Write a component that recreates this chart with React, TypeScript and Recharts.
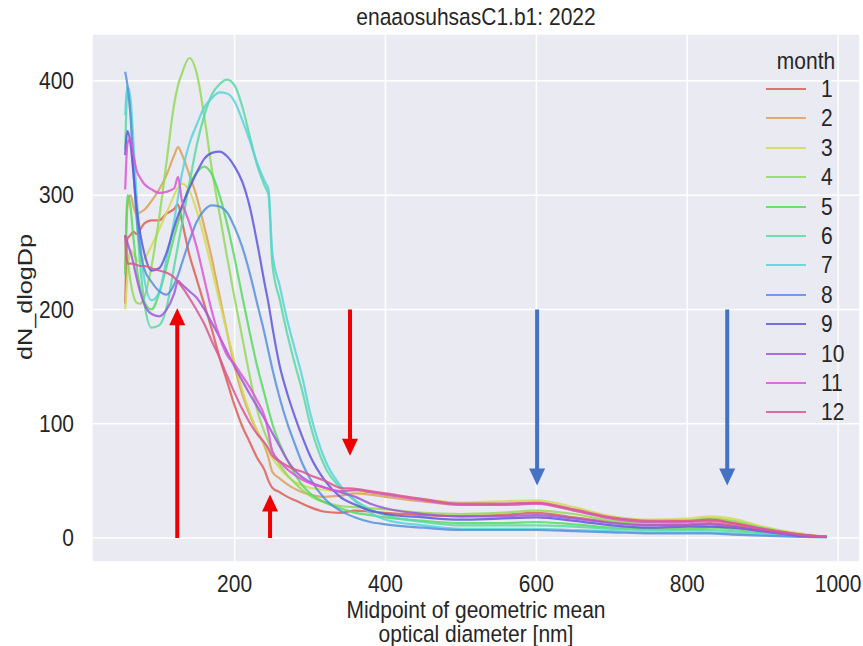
import React from 'react';
import { LineChart, Line, XAxis, YAxis, CartesianGrid, ReferenceLine, ReferenceDot } from 'recharts';

// particle size bins (nm)
const DIAMETERS = [55, 58, 62, 66, 70, 75, 80, 90, 100, 110, 120, 125, 130, 140, 150, 160, 170, 180, 190, 200, 210, 220, 230, 240, 245, 250, 260, 270, 280, 290, 300, 320, 340, 360, 380, 400, 450, 500, 550, 600, 650, 700, 750, 800, 830, 860, 900, 950, 985];

const M1 = [205, 262, 265, 268, 266, 270, 275, 278, 278, 284, 288, 292, 278, 248, 226, 204, 182, 158, 137, 116, 98, 84, 70, 59, 50, 44, 40, 36, 33, 30, 27, 23, 22, 24, 23, 22, 20, 19, 20, 22, 18, 14, 12, 12, 13, 11, 7, 3, 1];
const M2 = [235, 290, 300, 290, 283, 285, 287, 295, 305, 318, 335, 342, 336, 318, 298, 272, 244, 212, 180, 150, 126, 108, 93, 80, 70, 58, 52, 47, 43, 40, 38, 36, 37, 39, 38, 36, 32, 29, 29, 30, 24, 17, 14, 15, 17, 14, 8, 3, 1];
const M3 = [200, 230, 252, 248, 244, 242, 244, 256, 270, 285, 300, 307, 310, 304, 286, 262, 235, 207, 180, 154, 130, 110, 94, 82, 76, 70, 61, 54, 49, 46, 44, 42, 41, 41, 40, 38, 34, 31, 32, 33, 27, 19, 16, 17, 19, 17, 10, 4, 1];
const M4 = [265, 245, 225, 212, 206, 205, 210, 238, 280, 330, 380, 396, 406, 420, 406, 368, 322, 284, 246, 210, 176, 142, 112, 92, 84, 76, 64, 55, 48, 42, 37, 31, 28, 27, 26, 25, 22, 21, 22, 24, 21, 15, 13, 15, 17, 15, 9, 3, 1];
const M5 = [230, 300, 290, 262, 238, 218, 207, 200, 214, 238, 264, 276, 288, 308, 320, 325, 318, 300, 275, 245, 212, 180, 150, 125, 112, 100, 82, 68, 56, 46, 39, 31, 26, 22, 20, 18, 15, 13, 13, 14, 12, 9, 8, 8, 9, 8, 5, 2, 1];
const M6 = [340, 390, 372, 330, 282, 238, 208, 184, 186, 202, 238, 256, 274, 310, 344, 370, 388, 397, 401, 396, 378, 352, 326, 308, 300, 240, 208, 178, 152, 128, 100, 62, 44, 33, 25, 20, 14, 11, 11, 11, 10, 8, 7, 7, 7, 6, 4, 2, 1];
const M7 = [370, 395, 385, 345, 300, 258, 228, 208, 215, 245, 278, 298, 318, 345, 362, 377, 385, 390, 389, 382, 366, 348, 328, 312, 305, 250, 220, 190, 165, 140, 110, 68, 46, 32, 22, 16, 11, 8, 8, 8, 7, 6, 5, 5, 5, 4, 3, 1.5, 1];
const M8 = [408, 396, 370, 322, 282, 252, 236, 224, 216, 213, 222, 230, 240, 260, 277, 287, 291, 290, 285, 272, 255, 232, 205, 178, 163, 148, 122, 100, 82, 65, 52, 34, 24, 18, 14, 12, 9, 7, 7, 7, 6, 5, 4, 4, 4, 3, 2, 1, 0.5];
const M9 = [335, 356, 345, 318, 290, 266, 250, 234, 236, 250, 272, 282, 290, 306, 320, 332, 337, 338, 334, 325, 312, 290, 258, 222, 205, 185, 150, 126, 106, 88, 72, 50, 36, 29, 24, 21, 18, 16, 17, 18, 15, 11, 9, 10, 10, 9, 6, 2, 1];
const M10 = [265, 258, 250, 240, 228, 215, 205, 196, 194, 200, 214, 225, 222, 216, 210, 200, 188, 176, 163, 150, 138, 126, 115, 104, 98, 92, 80, 68, 59, 53, 49, 44, 40, 36, 30, 26, 21, 19, 19, 20, 17, 13, 11, 11, 12, 10, 6, 2, 1];
const M11 = [305, 345, 350, 335, 322, 315, 310, 305, 302, 303, 306, 316, 296, 276, 254, 226, 198, 176, 160, 152, 142, 132, 120, 106, 92, 76, 67, 60, 55, 51, 48, 44, 41, 42, 40, 38, 33, 29, 29, 30, 24, 17, 14, 14, 15, 13, 8, 3, 1];
const M12 = [265, 240, 240, 240, 239, 238, 238, 236, 234, 232, 228, 224, 220, 210, 199, 187, 172, 158, 142, 127, 113, 101, 91, 83, 78, 72, 67, 63, 60, 58, 55, 50, 44, 43, 41, 39, 34, 30, 30, 31, 25, 18, 15, 15, 16, 13, 8, 3, 1];

const MONTHS = [M1, M2, M3, M4, M5, M6, M7, M8, M9, M10, M11, M12];
const MONTH_LABELS = ['1', '2', '3', '4', '5', '6', '7', '8', '9', '10', '11', '12'];
const COLORS = ['#DB5F57', '#DBA157', '#D3DB57', '#91DB57', '#57DB5F', '#57DBA1', '#57D3DB', '#5791DB', '#5F57DB', '#A157DB', '#DB57D3', '#DB5791'];

const X_TICKS = [200, 400, 600, 800, 1000];
const Y_TICKS = [0, 100, 200, 300, 400];

// annotation arrows (data units)
const ARROW_X = [124, 247, 353, 601, 853];
const ARROW_FROM = [0, 0, 200, 200, 200];
const ARROW_TO = [201, 38, 72, 46, 46];
const ARROW_COLOR = ['#EE0000', '#EE0000', '#EE0000', '#4472C4', '#4472C4'];

const FONT = '"Liberation Sans", Arial, sans-serif';
const TEXT = '#262626';
const FS = 21;

const rows = DIAMETERS.map((x, i) => {
  const row: Record<string, number> = { x };
  MONTHS.forEach((m, j) => { row[`m${j + 1}`] = m[i]; });
  return row;
});

const arrowHead = (color: string, up: boolean) => (props: any) => {
  const { cx, cy } = props;
  const by = up ? cy + 17 : cy - 17;
  return <polygon points={`${cx},${cy} ${cx - 8},${by} ${cx + 8},${by}`} fill={color} />;
};

const XTick = (props: any) => {
  const { x, y, payload } = props;
  return (
    <g transform={`translate(${x},${y}) scale(1,1.1)`}>
      <text x={0} y={0} dy="0.75em" textAnchor="middle" fontSize={FS} fill={TEXT} fontFamily={FONT}>{payload.value}</text>
    </g>
  );
};

const YTick = (props: any) => {
  const { x, y, payload } = props;
  return (
    <g transform={`translate(${x},${y}) scale(1,1.1)`}>
      <text x={0} y={0} dy="0.36em" textAnchor="end" fontSize={FS} fill={TEXT} fontFamily={FONT}>{payload.value}</text>
    </g>
  );
};

const App = () => {
  return (
    <div style={{ position: 'absolute', left: 0, top: 0, width: 863, height: 646, background: '#fff', fontFamily: FONT, color: TEXT }}>
      <LineChart width={863} height={646} data={rows} margin={{ top: 34, right: 3, bottom: 0, left: 0 }}>
        <CartesianGrid fill="#EAEAF2" stroke="#fff" strokeWidth={1.5} />
        <XAxis
          type="number"
          dataKey="x"
          domain={[11, 1029]}
          ticks={X_TICKS}
          axisLine={false}
          tickLine={false}
          tickSize={0}
          tickMargin={13}
          height={84}
          tick={<XTick />}
          allowDataOverflow
        />
        <YAxis
          type="number"
          domain={[-21, 441]}
          ticks={Y_TICKS}
          axisLine={false}
          tickLine={false}
          tickSize={0}
          tickMargin={18}
          width={92}
          tick={<YTick />}
          allowDataOverflow
        />
        {MONTHS.map((_, j) => (
          <Line
            key={j}
            type="monotone"
            dataKey={`m${j + 1}`}
            stroke={COLORS[j]}
            strokeOpacity={0.85}
            strokeWidth={2.2}
            dot={false}
            isAnimationActive={false}
          />
        ))}
        {ARROW_X.map((x, i) => {
          const up = ARROW_TO[i] > ARROW_FROM[i];
          const end = up ? ARROW_TO[i] - 10 : ARROW_TO[i] + 10;
          return (
            <ReferenceLine
              key={`s${i}`}
              segment={[{ x, y: ARROW_FROM[i] }, { x, y: end }]}
              stroke={ARROW_COLOR[i]}
              strokeWidth={4}
            />
          );
        })}
        {ARROW_X.map((x, i) => (
          <ReferenceDot
            key={`h${i}`}
            x={x}
            y={ARROW_TO[i]}
            r={1}
            shape={arrowHead(ARROW_COLOR[i], ARROW_TO[i] > ARROW_FROM[i])}
          />
        ))}
      </LineChart>

      <div style={{ position: 'absolute', left: 92, width: 768, top: 6, lineHeight: '22px', fontSize: FS, textAlign: 'center', transform: 'scaleY(1.1)' }}>
        enaaosuhsasC1.b1: 2022
      </div>
      <div style={{ position: 'absolute', left: 92, width: 768, top: 600, lineHeight: '22px', fontSize: FS, textAlign: 'center', transform: 'scaleY(1.1)' }}>
        Midpoint of geometric mean<br />optical diameter [nm]
      </div>
      <div style={{ position: 'absolute', left: 25 - 100, top: 297 - 11, width: 200, lineHeight: '22px', fontSize: FS, textAlign: 'center', transform: 'rotate(-90deg) scaleX(1.2)' }}>
        dN_dlogDp
      </div>

      <div style={{ position: 'absolute', left: 746, top: 48, width: 120, fontSize: FS }}>
        <div style={{ position: 'absolute', left: 0, width: 120, top: 0, lineHeight: '26px', textAlign: 'center', transform: 'scaleY(1.1)' }}>month</div>
        {MONTH_LABELS.map((label, j) => (
          <div key={label} style={{ position: 'absolute', left: 0, top: 41 + j * 29.4 - 11, height: 22, width: 120 }}>
            <div style={{ position: 'absolute', left: 20, top: 10, width: 40, height: 2, background: COLORS[j], opacity: 0.85 }} />
            <div style={{ position: 'absolute', left: 75, top: 0, lineHeight: '22px', transform: 'scaleY(1.1)' }}>{label}</div>
          </div>
        ))}
      </div>
    </div>
  );
};

export default App;
